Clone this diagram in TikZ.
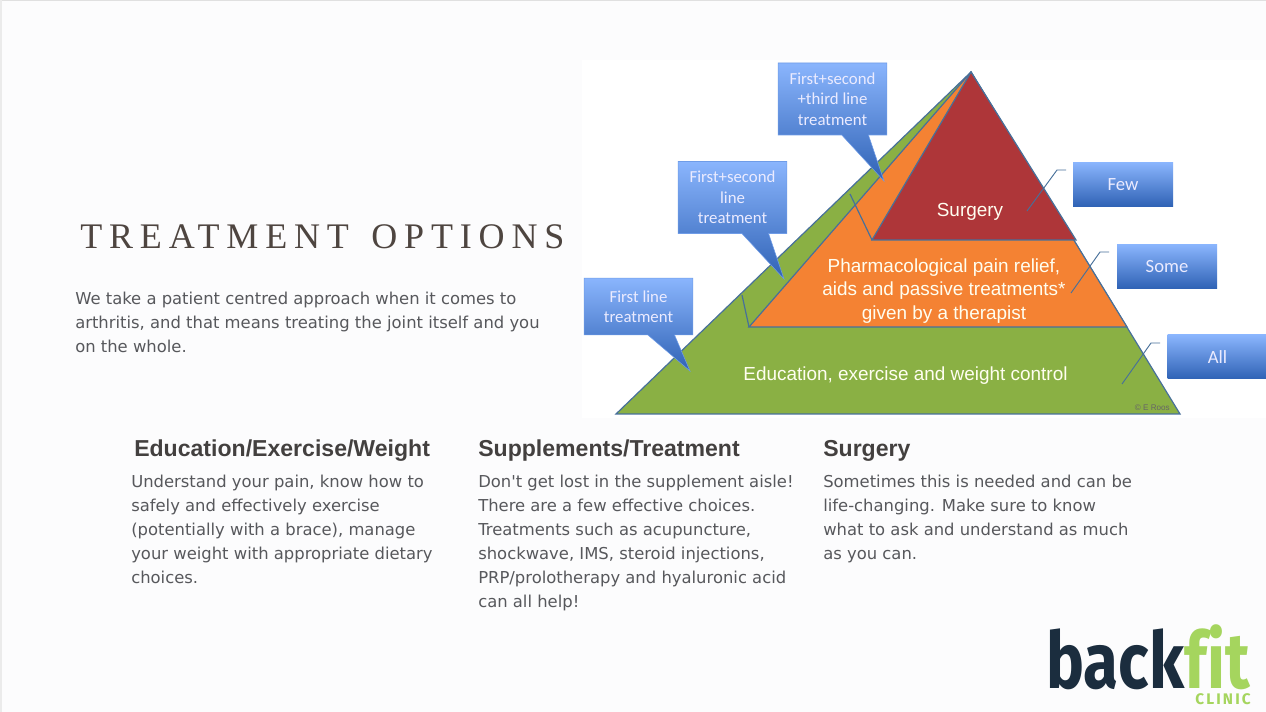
\documentclass[tikz,border=0pt]{standalone}
\usepackage{fontspec}
\setmainfont{Liberation Serif}
\newfontfamily\bodyfont{DejaVu Sans}
\newfontfamily\pyrfont{Liberation Sans}
\newfontfamily\tagfont{Carlito}
\newfontfamily\logofont{Fira Sans}
\usetikzlibrary{shapes.callouts}
\definecolor{pagebg}{HTML}{FCFCFD}
\definecolor{pyrgreen}{HTML}{8AB044}
\definecolor{pyrorange}{HTML}{F48233}
\definecolor{pyrred}{HTML}{AE3639}
\definecolor{pyredge}{HTML}{47709A}
\definecolor{tagtop}{HTML}{8AB5FD}
\definecolor{tagbottom}{HTML}{2F62B5}
\definecolor{bodygrey}{HTML}{57585C}
\definecolor{headgrey}{HTML}{43403F}
\definecolor{titlegrey}{HTML}{4E4540}
\definecolor{logonavy}{HTML}{1B2D3E}
\definecolor{logogreen}{HTML}{A5D55E}
\tikzset{
  bodytext/.style={anchor=north west, inner sep=0, align=left, text=bodygrey, font=\bodyfont\fontsize{12.3}{18.1}\selectfont},
  headtext/.style={anchor=west, inner sep=0, text=headgrey, font=\pyrfont\bfseries\fontsize{17.3}{18}\selectfont},
  pyrtext/.style={inner sep=0, align=center, text=white!94!yellow, font=\pyrfont\fontsize{14.2}{17.6}\selectfont},
  linetag/.style={rectangle callout, minimum width=81.5pt, inner sep=0, align=center, top color=tagtop, bottom color=tagbottom, draw=tagtop!70!tagbottom, line width=0.4pt, callout pointer width=20pt, text=white!92!blue, font=\tagfont\fontsize{12.6}{15.4}\selectfont},
  sharetag/.style={rectangle, minimum width=75pt, minimum height=33pt, inner sep=0, top color=tagtop, bottom color=tagbottom, text=white!92!blue, font=\tagfont\fontsize{14}{15}\selectfont},
  pyrline/.style={draw=pyredge, line width=0.9pt},
  logotext/.style={anchor=base west, inner sep=0, font=\logofont\bfseries\fontsize{59}{59}\selectfont\addfontfeature{FakeStretch=0.81}}
}
\begin{document}
\begin{tikzpicture}[x=0.75pt, y=-0.75pt]
  \useasboundingbox (0,0) rectangle (1266,712);
  \fill[pagebg] (0,0) rectangle (1266,712);
  \draw[black!12, line width=1pt] (0,0.5) -- (1266,0.5);
  \draw[black!8, line width=1.5pt] (1,0) -- (1,712);
  \fill[white] (582,60) rectangle (1266,418);

  \coordinate (apex) at (971,72);
  \coordinate (baseL) at (616,414);
  \coordinate (baseR) at (1180,414);
  \coordinate (midL) at (749,327);
  \coordinate (midR) at (1127,327);
  \coordinate (topL) at (872,240);
  \coordinate (topR) at (1076,240);
  \draw[pyrline, fill=pyrgreen] (apex) -- (baseL) -- (baseR) -- cycle;
  \draw[pyrline, fill=pyrorange] (apex) -- (midL) -- (midR) -- cycle;
  \draw[pyrline, fill=pyrred] (apex) -- (topL) -- (topR) -- cycle;

  \node[pyrtext] (surgery) at (970,211.5) {Surgery};
  \node[pyrtext] (pharma) at (944,291) {Pharmacological pain relief,\\aids and passive treatments*\\given by a therapist};
  \node[pyrtext] (educ) at (905.5,376) {Education, exercise and weight control};
  \node[anchor=east, inner sep=0, text=black!60, font=\pyrfont\fontsize{6.1}{7}\selectfont] (roos) at (1170,408) {© E Roos};

  \coordinate (firstTip) at (690,371);
  \coordinate (secondTip) at (784,279);
  \coordinate (thirdTip) at (884,181);
  \node[linetag, minimum height=42.5pt, callout absolute pointer={(firstTip)}] (first) at (638.5,306.5) {First line\\treatment};
  \node[linetag, minimum height=54pt, callout absolute pointer={(secondTip)}] (second) at (732.5,197.5) {First+second\\line\\treatment};
  \node[linetag, minimum height=54pt, callout absolute pointer={(thirdTip)}] (third) at (832.5,99) {First+second\\+third line\\treatment};

  \coordinate (firstA) at (742,295);
  \coordinate (secondA) at (850,194);
  \draw[pyrline] (firstA) -- (midL);
  \draw[pyrline] (secondA) -- (topL);

  \node[sharetag] (few) at (1123,184.5) {Few};
  \node[sharetag] (some) at (1167,266.5) {Some};
  \node[sharetag] (all) at (1217.5,357) {All};
  \coordinate (fewA) at (1027,211);
  \coordinate (fewB) at (1057,170);
  \coordinate (fewC) at (1066,170);
  \coordinate (someA) at (1071,293);
  \coordinate (someB) at (1100,252);
  \coordinate (someC) at (1109,252);
  \coordinate (allA) at (1122,384);
  \coordinate (allB) at (1151,343);
  \coordinate (allC) at (1160,343);
  \draw[pyrline, line width=0.7pt] (fewA) -- (fewB) -- (fewC);
  \draw[pyrline, line width=0.7pt] (someA) -- (someB) -- (someC);
  \draw[pyrline, line width=0.7pt] (allA) -- (allB) -- (allC);

  \node[anchor=west, inner sep=0, text=titlegrey, font=\fontsize{27}{30}\selectfont\addfontfeature{LetterSpace=19}] (title) at (80,237) {TREATMENT\hspace{4.9pt} OPTIONS};
  \node[bodytext] (intro) at (75,291.5) {We take a patient centred approach when it comes to\\arthritis, and that means treating the joint itself and you\\on the whole.};

  \node[headtext] (headA) at (134,450.5) {Education/Exercise/Weight};
  \node[headtext] (headB) at (478,450.5) {Supplements/Treatment};
  \node[headtext] (headC) at (823,450.5) {Surgery};
  \node[bodytext] (textA) at (131,474.5) {Understand your pain, know how to\\safely and effectively exercise\\(potentially with a brace), manage\\your weight with appropriate dietary\\choices.};
  \node[bodytext] (textB) at (478,474.5) {Don't get lost in the supplement aisle!\\There are a few effective choices.\\Treatments such as acupuncture,\\shockwave, IMS, steroid injections,\\PRP/prolotherapy and hyaluronic acid\\can all help!};
  \node[bodytext] (textC) at (823,474.5) {Sometimes this is needed and can be\\life-changing. Make sure to know\\what to ask and understand as much\\as you can.};

  \node[logotext, text=logonavy] (back) at (1046,688) {back};
  \node[logotext, text=logogreen] (fit) at (back.base east) {f\kern0pt it};
  \node[anchor=base east, inner sep=0, text=logogreen, font=\logofont\bfseries\fontsize{11.5}{12}\selectfont\addfontfeature{LetterSpace=14}] (clinic) at (1251,704) {CLINIC};
\end{tikzpicture}
\end{document}
